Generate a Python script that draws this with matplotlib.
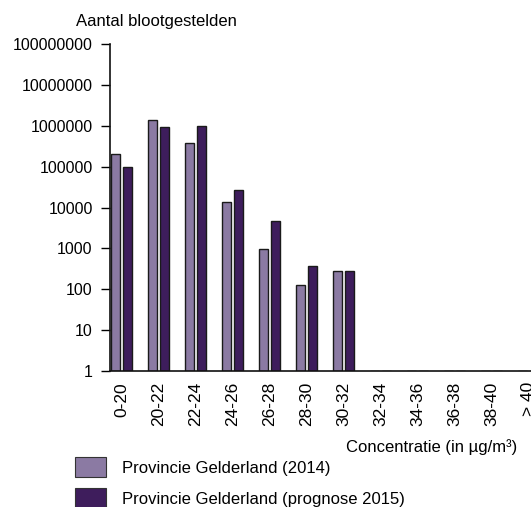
import matplotlib
matplotlib.use("Agg")
import matplotlib.pyplot as plt
import numpy as np
from matplotlib.patches import Patch

plt.rcParams['font.family'] = ['Liberation Sans', 'DejaVu Sans']

categories = ["0-20", "20-22", "22-24", "24-26", "26-28", "28-30", "30-32",
              "32-34", "34-36", "36-38", "38-40", "> 40"]
values_2014 = [200000, 1400000, 370000, 14000, 950, 130, 285, 1, 1, 1, 1, 1]
values_2015 = [100000, 940000, 1000000, 27000, 4700, 380, 285, 1, 1, 1, 1, 1]
series_names = ["Provincie Gelderland (2014)", "Provincie Gelderland (prognose 2015)"]
yticks = [1, 10, 100, 1000, 10000, 100000, 1000000, 10000000, 100000000]

c_light = "#8b7aa3"
c_dark = "#3e1d5c"

fig = plt.figure(figsize=(5.31, 5.07), dpi=100)
ax = fig.add_axes([0.2072, 0.2682, 0.7928, 0.645])

x = np.arange(len(categories))
w = 0.25
off = 0.16
ax.bar(x - off, np.array(values_2014) - 1, width=w, bottom=1, color=c_light,
       edgecolor="#1a1a1a", linewidth=1.0)
ax.bar(x + off, np.array(values_2015) - 1, width=w, bottom=1, color=c_dark,
       edgecolor="#1a1a1a", linewidth=1.0)

ax.set_yscale("log")
ax.set_ylim(1, 1e8)
ax.set_yticks(yticks)
ax.set_yticklabels([str(v) for v in yticks], fontsize=11.5)
ax.minorticks_off()
ax.tick_params(axis="y", direction="out", length=6.5, width=1, pad=6)
ax.set_xlim(-0.31, 11.07)
ax.set_xticks(x)
ax.set_xticklabels(categories, rotation=90, fontsize=12.5)
ax.tick_params(axis="x", length=0, pad=8)

for s in ["top", "right"]:
    ax.spines[s].set_visible(False)
for s in ["left", "bottom"]:
    ax.spines[s].set_linewidth(1.2)
    ax.spines[s].set_color("#111111")

fig.text(0.294, 0.957, "Aantal blootgestelden", fontsize=12, ha="center", va="center")
fig.text(0.812, 0.118, "Concentratie (in µg/m³)", fontsize=12, ha="center", va="center")

handles = [Patch(facecolor=c_light, edgecolor="#333333", linewidth=0.8),
           Patch(facecolor=c_dark, edgecolor="#333333", linewidth=0.8)]
fig.legend(handles, series_names, loc="upper left", bbox_to_anchor=(0.141, 0.0986),
           frameon=False, fontsize=12, handlelength=1.86, handleheight=1.47,
           handletextpad=0.95, labelspacing=0.66, borderpad=0, borderaxespad=0)

fig.savefig("out.png", dpi=100)
